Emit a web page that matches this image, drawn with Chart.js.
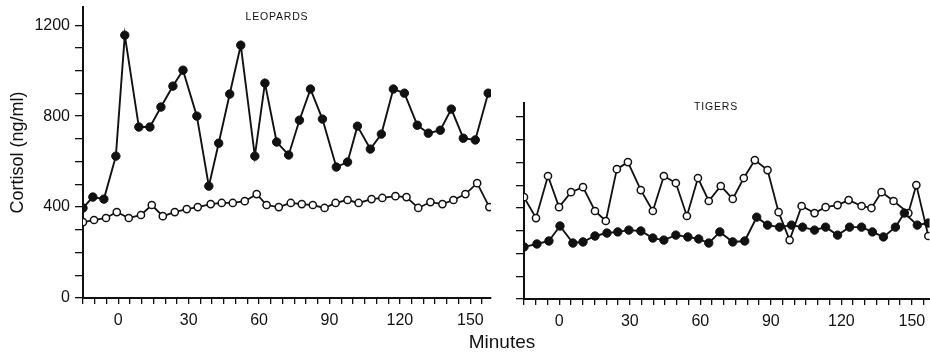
<!DOCTYPE html>
<html>
<head>
<meta charset="utf-8">
<script src="https://cdn.jsdelivr.net/npm/chart.js@4.4.0/dist/chart.umd.min.js"></script>
<style>
    body { margin: 0; width: 930px; height: 353px; overflow: hidden; background: #fff; position: relative; font-family: "Liberation Sans", Arial, sans-serif; }
    .panel { position: absolute; top: 0; height: 353px; }
    .label { position: absolute; color: #111; white-space: nowrap; transform: translate(-50%, -50%); }
</style>
</head>
<body>
<div class="panel" style="left:0;width:500px"><canvas id="leopardsChart" width="500" height="353"></canvas></div>
<div class="panel" style="left:440px;width:495px"><canvas id="tigersChart" width="495" height="353"></canvas></div>
<div class="label" style="left:277px;top:16px;font-size:10.5px;letter-spacing:0.8px">LEOPARDS</div>
<div class="label" style="left:716px;top:106px;font-size:10.5px;letter-spacing:0.8px">TIGERS</div>
<div class="label" style="left:502px;top:342px;font-size:19px">Minutes</div>
<script>
// Leopards, filled circles
const leopardFilledMin = [-15, -10.8, -6.1, -1, 2.8, 8.8, 13.5, 18.2, 23.3, 27.6, 33.5, 38.6, 42.8, 47.5, 52.2, 58.2, 62.5, 67.5,
    72.6, 77.2, 81.9, 87, 92.9, 97.7, 101.9, 107.4, 112.1, 117.2, 121.9, 127.4, 132.1, 137.2, 141.9, 147, 152.1, 157.6];
const leopardFilledVal = [396, 444, 435, 624, 1156, 752, 752, 840, 932, 1002, 800, 492, 681, 897, 1112, 624, 945, 686,
    629, 782, 919, 787, 576, 598, 756, 655, 721, 919, 901, 760, 725, 738, 831, 703, 695, 901];

// Leopards, open circles
const leopardOpenMin = [-15, -10.3, -5.2, -0.6, 4.5, 9.7, 14.3, 19, 24.1, 29.2, 33.9, 39.4, 44.1, 48.8, 53.9, 59, 63.2, 68.4,
    73.5, 78.2, 82.9, 87.9, 92.6, 97.7, 102.4, 107.9, 112.5, 118.1, 122.8, 127.8, 133, 138.1, 142.8, 147.9, 152.9, 158.1];
const leopardOpenVal = [334, 343, 352, 378, 352, 365, 409, 360, 378, 391, 400, 413, 418, 418, 426, 457, 409, 400,
    418, 413, 409, 396, 418, 431, 418, 435, 440, 448, 444, 396, 422, 413, 431, 457, 505, 400];

// Tigers, open circles
const tigerOpenMin = [-15, -9.9, -4.8, -0.1, 5, 10.1, 15.2, 19.8, 24.5, 29.2, 34.7, 39.8, 44.5, 49.6, 54.3, 59, 63.6, 68.7,
    73.8, 78.5, 83.2, 88.6, 93.3, 98, 103.1, 108.6, 113.3, 118.4, 123.1, 128.6, 132.8, 137.1, 142.2, 148.5, 151.9, 157];
const tigerOpenVal = [448, 356, 541, 404, 470, 492, 387, 343, 571, 602, 479, 387, 541, 510, 365, 532, 431, 497,
    440, 532, 611, 567, 382, 259, 409, 378, 404, 413, 435, 409, 400, 470, 431, 378, 501, 277];

// Tigers, filled circles
const tigerFilledMin = [-15, -9.5, -4.4, 0.3, 5.8, 10.1, 15.2, 20.3, 24.9, 29.6, 34.7, 39.8, 44.5, 49.6, 54.7, 59.3, 63.6, 68.3,
    73.8, 78.9, 84, 88.6, 93.7, 98.8, 103.5, 108.6, 113.3, 118.4, 123.5, 128.6, 133.2, 137.9, 143, 146.8, 152.3, 157];
const tigerFilledVal = [229, 242, 255, 321, 246, 251, 277, 290, 295, 303, 299, 268, 259, 281, 273, 264, 246, 295,
    251, 255, 360, 325, 316, 325, 316, 303, 316, 281, 316, 316, 295, 273, 316, 378, 325, 334];

const toPoints = (xs, ys) => xs.map((x, i) => ({ x: x, y: ys[i] }));

const ink = '#111';
const fontName = '"Liberation Sans", Arial, sans-serif';

const filledSet = (xs, ys) => ({
    data: toPoints(xs, ys),
    borderColor: ink,
    borderWidth: 1.9,
    pointRadius: 4.2,
    pointBackgroundColor: ink,
    pointBorderColor: ink,
    pointBorderWidth: 1,
});

const openSet = (xs, ys) => ({
    data: toPoints(xs, ys),
    borderColor: ink,
    borderWidth: 1.8,
    pointRadius: 3.6,
    pointBackgroundColor: '#fff',
    pointBorderColor: ink,
    pointBorderWidth: 1.5,
});

function makeOptions(cfg) {
    return {
        responsive: false,
        animation: false,
        devicePixelRatio: 1,
        layout: { padding: cfg.padding },
        plugins: { legend: { display: false }, tooltip: { enabled: false } },
        scales: {
            x: {
                type: 'linear',
                min: -15,
                max: cfg.xMax,
                afterFit: (scale) => {
                    scale.height = cfg.xHeight;
                    scale.paddingLeft = 0;
                    scale.paddingRight = 0;
                },
                afterBuildTicks: (scale) => { scale.ticks = scale.ticks.filter(t => t.value % 5 === 0); },
                border: { display: true, color: ink, width: 2 },
                grid: { drawOnChartArea: false, color: ink, tickLength: 6, lineWidth: 1.3 },
                ticks: {
                    stepSize: 5,
                    includeBounds: false,
                    autoSkip: false,
                    maxRotation: 0,
                    padding: 7,
                    color: ink,
                    font: { family: fontName, size: 16 },
                    callback: (v) => (v % 30 === 0 ? v : ''),
                },
            },
            y: {
                type: 'linear',
                min: 0,
                max: cfg.yMax,
                afterFit: (scale) => {
                    scale.width = cfg.yWidth;
                    scale.paddingTop = 0;
                    scale.paddingBottom = 0;
                },
                afterBuildTicks: (scale) => { scale.ticks = scale.ticks.filter(t => t.value % 100 === 0); },
                border: { display: true, color: ink, width: 2 },
                grid: { drawOnChartArea: false, color: ink, tickLength: 8, lineWidth: 1.3 },
                title: {
                    display: cfg.yTitle,
                    text: 'Cortisol (ng/ml)',
                    color: ink,
                    font: { family: fontName, size: 18 },
                    padding: { top: 7, bottom: 0 },
                },
                ticks: {
                    stepSize: 100,
                    includeBounds: false,
                    autoSkip: false,
                    padding: 5,
                    color: ink,
                    font: { family: fontName, size: 16 },
                    callback: (v) => (cfg.yLabels && v % 400 === 0 ? v : ''),
                },
            },
        },
    };
}

new Chart(document.getElementById('leopardsChart'), {
    type: 'line',
    data: {
        datasets: [
            openSet(leopardOpenMin, leopardOpenVal),
            filledSet(leopardFilledMin, leopardFilledVal),
        ]
    },
    options: makeOptions({
        padding: { left: 0, top: 7, right: 9, bottom: 0 },
        xMax: 158.8, xHeight: 55,
        yMax: 1280, yWidth: 83,
        yTitle: true, yLabels: true,
    }),
});

// canvas is 5px wider than the visible area so that the plot reaches the page edge
new Chart(document.getElementById('tigersChart'), {
    type: 'line',
    data: {
        datasets: [
            filledSet(tigerFilledMin, tigerFilledVal),
            openSet(tigerOpenMin, tigerOpenVal),
        ]
    },
    options: makeOptions({
        padding: { left: 0, top: 103, right: 0, bottom: 0 },
        xMax: 157.5, xHeight: 54,
        yMax: 862, yWidth: 84,
        yTitle: false, yLabels: false,
    }),
});
</script>
</body>
</html>
